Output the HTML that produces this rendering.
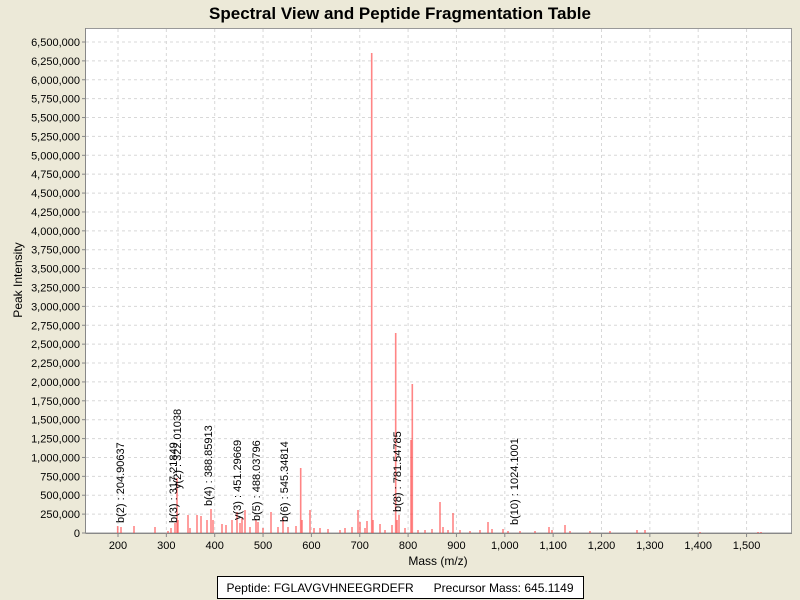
<!DOCTYPE html>
<html><head><meta charset="utf-8"><style>
body{margin:0;background:#ECE9D8;}
svg{display:block;font-family:"Liberation Sans",sans-serif;}
</style></head><body>
<svg width="800" height="600" xmlns="http://www.w3.org/2000/svg">
<rect width="800" height="600" fill="#ECE9D8"/>
<text x="400" y="19" font-size="17" font-weight="bold" text-anchor="middle">Spectral View and Peptide Fragmentation Table</text>
<rect x="85.5" y="28.5" width="706" height="504.5" fill="#fff" stroke="#999"/>
<g id="grid" stroke="#d8d8d8" stroke-dasharray="3,3" stroke-width="1"></g>
<g id="peaks" stroke="#ff4444" stroke-opacity="0.65" stroke-width="1.6"></g>
<g id="ticks" font-size="11" fill="#000"></g>
<line x1="85.5" y1="533.5" x2="792" y2="533.5" stroke="#888"/>
<line x1="85.5" y1="28" x2="85.5" y2="533.5" stroke="#888"/>
<g font-size="11">
<text transform="translate(124,523) rotate(-90)">b(2) : 204.90637</text>
<text transform="translate(177,523) rotate(-90)">b(3) : 317.21849</text>
<text transform="translate(181,489) rotate(-90)">y(2) : 322.01038</text>
<text transform="translate(212,506) rotate(-90)">b(4) : 388.85913</text>
<text transform="translate(241,520) rotate(-90)">y(3) : 451.29669</text>
<text transform="translate(260,521) rotate(-90)">b(5) : 488.03796</text>
<text transform="translate(288,522) rotate(-90)">b(6) : 545.34814</text>
<text transform="translate(401,512) rotate(-90)">b(8) : 781.54785</text>
<text transform="translate(518,525) rotate(-90)">b(10) : 1024.1001</text>
</g>
<text x="438" y="565" font-size="12" text-anchor="middle">Mass (m/z)</text>
<text transform="translate(22,280) rotate(-90)" font-size="12" text-anchor="middle">Peak Intensity</text>
<rect x="217.5" y="576.5" width="366" height="22" fill="#fff" stroke="#000"/>
<text x="400" y="592" font-size="12" text-anchor="middle" xml:space="preserve">Peptide: FGLAVGVHNEEGRDEFR      Precursor Mass: 645.1149</text>
<script>
var ns="http://www.w3.org/2000/svg";
function el(p,t,a,txt){var e=document.createElementNS(ns,t);for(var k in a)e.setAttribute(k,a[k]);if(txt)e.textContent=txt;p.appendChild(e);return e;}
var g=document.getElementById('grid'),tk=document.getElementById('ticks'),pk=document.getElementById('peaks');
for(var i=0;i<=26;i++){var y=533-i*18.885;var v=i*250000;
 if(i>0)el(g,'line',{x1:86,x2:791,y1:y,y2:y});
 el(tk,'line',{x1:82,x2:85.5,y1:y,y2:y,stroke:'#888'});
 el(tk,'text',{x:80,y:y+4,'text-anchor':'end'},v.toLocaleString('en-US'));}
for(var m=200;m<=1500;m+=100){var x=118+(m-200)*0.4835;
 el(g,'line',{x1:x,x2:x,y1:29,y2:532});
 el(tk,'line',{x1:x,x2:x,y1:533,y2:537,stroke:'#888'});
 el(tk,'text',{x:x,y:549,'text-anchor':'middle'},m.toLocaleString('en-US'));}
var P=[[117.7,526],[121,527],[134,526],[155,527],[168,531],[171,528],[175,523],[177,478],[178,520],[188,515],[190,528],[197,515],[201,516],[207,520],[211,509],[213,520],[222,524],[226,525],[232,520],[237,512],[240,523],[242,518],[245,510],[250,527],[256,520],[258,522],[263,528],[271,512],[278,527],[283,518],[288,527],[296,526],[300.7,468],[302,520],[310,510],[314,528],[320,528],[328,529],[340,530],[345,528],[352,527],[358,510],[360,522],[365,528],[367,521],[371.7,53],[373,520],[380,524],[385,530],[392,525],[395.7,333],[397,520],[399,515],[405,528],[411,440],[412.3,384],[418,530],[425,530],[432,529],[440,502],[443,527],[448,530],[453,513],[460,530],[470,531],[480,530],[488,522],[492,529],[503,529],[508,531],[520,531],[535,531],[549,527],[552,530],[565,525],[570,531],[590,531],[610,531],[637,530],[645,530],[700,532],[758,532],[761,532]];
P.forEach(function(p){el(pk,'line',{x1:p[0],x2:p[0],y1:533,y2:p[1]});});
</script>
</svg>
</body></html>
